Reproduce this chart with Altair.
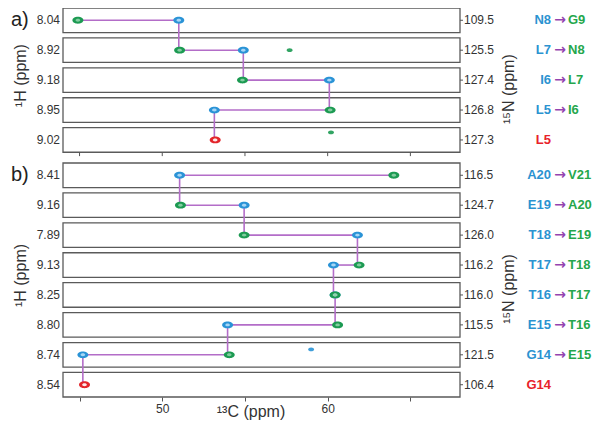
import altair as alt
import pandas as pd

# ---------------- data ----------------
# panel a) strips (top to bottom)
A_H = ["8.04", "8.92", "9.18", "8.95", "9.02"]
A_N = ["109.5", "125.5", "127.4", "126.8", "127.3"]
A_PREV = ["N8", "L7", "I6", "L5", ""]
A_SELF = ["G9", "N8", "L7", "I6", "L5"]
A_CA_PREV = [51.0, 54.9, 60.1, 53.15, None]
A_CA_SELF = [44.9, 51.05, 54.85, 60.15, 53.2]

# panel b) strips (top to bottom)
B_H = ["8.41", "9.16", "7.89", "9.13", "8.25", "8.80", "8.74", "8.54"]
B_N = ["116.5", "124.7", "126.0", "116.2", "116.0", "115.5", "121.5", "106.4"]
B_PREV = ["A20", "E19", "T18", "T17", "T16", "E15", "G14", ""]
B_SELF = ["V21", "A20", "E19", "T18", "T17", "T16", "E15", "G14"]
B_CA_PREV = [51.05, 54.95, 61.8, 60.35, 60.45, 53.95, 45.2, None]
B_CA_SELF = [64.0, 51.1, 54.95, 61.9, 60.45, 60.6, 54.05, 45.3]

# unassigned extra cross-peaks
EXTRA_PANEL = ["a", "a", "b"]
EXTRA_STRIP = [1, 4, 6]
EXTRA_CA = [57.7, 60.2, 59.0]
EXTRA_KIND = ["self", "self", "prev"]
EXTRA_DH = [0.0, -0.25, -0.18]

C_TICKS = [45, 50, 55, 60, 65]
C_LABELED = [50, 60]
C_DOMAIN = [44, 68]

# ---------------- layout / style ----------------
W, H = 397, 389
HALF = 0.41
B_OFFSET = 5.18
FONT = "Liberation Sans"
BLUE, GREEN, RED = "#2a93d6", "#1c9a52", "#e3252b"
TXT_BLUE, TXT_GREEN, TXT_RED = "#2b93d1", "#25a74c", "#e8222a"
LINK = "#b36dc8"
ARROW = "#9444b0"
ELLIPSE = ("M -1,0 C -1,-0.342 -0.552,-0.62 0,-0.62 C 0.552,-0.62 1,-0.342 1,0 "
           "C 1,0.342 0.552,0.62 0,0.62 C -0.552,0.62 -1,0.342 -1,0 Z")

panels = [
    ("a", 0.0, A_H, A_N, A_PREV, A_SELF, A_CA_PREV, A_CA_SELF),
    ("b", B_OFFSET, B_H, B_N, B_PREV, B_SELF, B_CA_PREV, B_CA_SELF),
]

strip_rows, peak_rows, link_rows = [], [], []
panel_off = {}
for name, off, Hs, Ns, P, S, CP, CS in panels:
    panel_off[name] = off
    for i in range(len(Hs)):
        pos = off + i
        strip_rows.append(dict(panel=name, pos=pos, top=pos - HALF, bot=pos + HALF,
                               h=Hs[i], n=Ns[i], prev=P[i], self=S[i],
                               left=P[i] if P[i] else S[i],
                               lkind="prev" if P[i] else "start"))
        if P[i]:
            peak_rows.append(dict(c=CP[i], pos=pos, kind="prev"))
            peak_rows.append(dict(c=CS[i], pos=pos, kind="self"))
            link_rows.append(dict(c=min(CP[i], CS[i]), c2=max(CP[i], CS[i]), y=pos, y2=pos))
            if i + 1 < len(Hs):
                link_rows.append(dict(c=CP[i], c2=CP[i], y=pos, y2=pos + 1))
        else:
            peak_rows.append(dict(c=CS[i], pos=pos, kind="start"))

strips = pd.DataFrame(strip_rows)
peaks = pd.DataFrame(peak_rows)
links = pd.DataFrame(link_rows)
extras = pd.DataFrame(dict(
    c=EXTRA_CA,
    pos=[panel_off[p] + s + d for p, s, d in zip(EXTRA_PANEL, EXTRA_STRIP, EXTRA_DH)],
    kind=EXTRA_KIND,
))
a_bottom = len(A_H) - 1 + HALF
ticks_a = pd.DataFrame(dict(c=C_TICKS, y=[a_bottom] * len(C_TICKS),
                            y2=[a_bottom + 0.13] * len(C_TICKS)))

Y_DOMAIN = [-HALF, B_OFFSET + len(B_H) - 1 + HALF]
yscale = alt.Scale(domain=Y_DOMAIN, reverse=True, nice=False, zero=False)
xscale = alt.Scale(domain=C_DOMAIN, nice=False, zero=False)
xaxis = alt.Axis(values=C_TICKS, labelExpr=f"indexof({C_LABELED}, datum.value) >= 0 ? datum.label : ''",
                 tickSize=4, tickColor="#555", domain=False, grid=False, title=None,
                 labelFont=FONT, labelFontSize=12, labelColor="#333", labelPadding=2)


def X(field):
    return alt.X(field, type="quantitative", scale=xscale, axis=xaxis)


def Y(field):
    return alt.Y(field, type="quantitative", scale=yscale, axis=None)


kind_color = alt.Color("kind:N", scale=alt.Scale(domain=["prev", "self", "start"],
                                                 range=[BLUE, GREEN, RED]), legend=None)
inner_color = alt.Color("kind:N", scale=alt.Scale(domain=["prev", "self", "start"],
                                                  range=["#b5defa", "#8fd3a8", "#ffffff"]), legend=None)

base_s = alt.Chart(strips)

rects = base_s.mark_rect(fill="white", stroke="#5a5a5a", strokeWidth=1.3).encode(
    x=alt.value(0), x2=alt.value(W), y=Y("top"), y2="bot:Q")

ticks_a_layer = alt.Chart(ticks_a).mark_rule(color="#555", strokeWidth=1).encode(
    x=X("c"), y=Y("y"), y2="y2:Q")

link_layer = alt.Chart(links).mark_rule(color=LINK, strokeWidth=1.6).encode(
    x=X("c"), x2="c2:Q", y=Y("y"), y2="y2:Q")

peak_outer = alt.Chart(peaks).mark_point(shape=ELLIPSE, filled=True, opacity=1, size=120).encode(
    x=X("c"), y=Y("pos"), color=kind_color)
peak_inner = alt.Chart(peaks).mark_point(shape=ELLIPSE, filled=True, opacity=0.9, size=22).encode(
    x=X("c"), y=Y("pos"), color=inner_color)
extra_layer = alt.Chart(extras).mark_point(shape=ELLIPSE, filled=True, opacity=0.9, size=36).encode(
    x=X("c"), y=Y("pos"), color=kind_color)

h_labels = base_s.mark_text(align="right", baseline="middle", font=FONT, fontSize=12, color="#333").encode(
    x=alt.value(-3), y=Y("pos"), text="h:N")
n_ticks = base_s.mark_rule(color="#555").encode(x=alt.value(W), x2=alt.value(W + 3), y=Y("pos"))
n_labels = base_s.mark_text(align="left", baseline="middle", font=FONT, fontSize=12, color="#333").encode(
    x=alt.value(W + 4), y=Y("pos"), text="n:N")

left_res = base_s.mark_text(align="right", baseline="middle", font=FONT, fontSize=13,
                            fontWeight="bold").encode(
    x=alt.value(488), y=Y("pos"), text="left:N",
    color=alt.Color("lkind:N", scale=alt.Scale(domain=["prev", "start"], range=[TXT_BLUE, TXT_RED]),
                    legend=None))
arrows = base_s.transform_filter("datum.prev != ''").mark_text(
    align="center", baseline="middle", font="DejaVu Sans", fontSize=14, fontWeight="bold",
    color=ARROW, text="→").encode(x=alt.value(497), y=Y("pos"))
right_res = base_s.transform_filter("datum.prev != ''").mark_text(
    align="left", baseline="middle", font=FONT, fontSize=13, fontWeight="bold",
    color=TXT_GREEN).encode(x=alt.value(505), y=Y("pos"), text="self:N")

# axis titles per panel
centers = strips.groupby("panel", as_index=False)["pos"].mean()
h_titles = alt.Chart(centers).transform_calculate(p="datum.pos - 0.15").mark_text(
    angle=270, align="center", baseline="middle", font=FONT,
    fontSize=16, color="#333", text="¹H (ppm)").encode(x=alt.value(-42), y=Y("p"))
n_titles = alt.Chart(centers).transform_calculate(p="datum.pos + 0.3").mark_text(
    angle=270, align="center", baseline="middle", font=FONT, fontSize=16, color="#333",
    text="¹⁵N (ppm)").encode(x=alt.value(446), y=Y("p"))
panel_tags = alt.Chart(pd.DataFrame(dict(tag=["a)", "b)"], pos=[0.0, B_OFFSET]))).transform_calculate(
    p="datum.pos - 0.02").mark_text(align="left", baseline="middle", font=FONT, fontSize=20,
                                   color="#222").encode(x=alt.value(-52), y=Y("p"), text="tag:N")
c_title = alt.Chart(pd.DataFrame(dict(t=["¹³C (ppm)"]))).mark_text(
    align="center", baseline="middle", font=FONT, fontSize=16, color="#333").encode(
    x=alt.value(188), y=alt.value(H + 15), text="t:N")

chart = alt.layer(
    rects, ticks_a_layer, link_layer, peak_outer, peak_inner, extra_layer,
    h_labels, n_ticks, n_labels, left_res, arrows, right_res,
    h_titles, n_titles, panel_tags, c_title,
).resolve_scale(color="independent").properties(
    width=W, height=H,
    autosize=alt.AutoSizeParams(type="none"),
    padding={"left": 55, "top": 0, "right": 132, "bottom": 29},
).configure_view(stroke=None)

chart.save("out.html", embed_options={"renderer": "svg", "actions": False})
